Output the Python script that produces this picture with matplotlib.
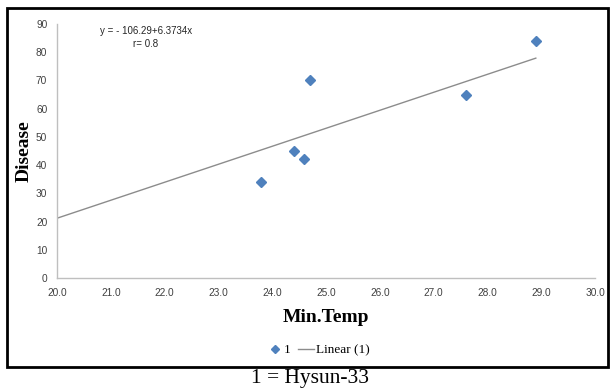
import numpy as np
import matplotlib
matplotlib.use("Agg")
import matplotlib.pyplot as plt
from matplotlib.patches import Rectangle

# Data
min_temp = [23.8, 24.4, 24.6, 24.7, 27.6, 28.9]
disease = [34, 45, 42, 70, 65, 84]
intercept = -106.29
slope = 6.3734
x_ticks = [20.0, 21.0, 22.0, 23.0, 24.0, 25.0, 26.0, 27.0, 28.0, 29.0, 30.0]
y_ticks = [0, 10, 20, 30, 40, 50, 60, 70, 80, 90]

fig = plt.figure(figsize=(6.11, 3.90), dpi=100)
ax = fig.add_axes([57/611, 1-278/390, (595-57)/611, (278-24)/390])

trend_x = np.array([x_ticks[0], max(min_temp)])
trend_y = intercept + slope * trend_x

ax.plot(min_temp, disease, linestyle='none', marker='D', markersize=5.2,
        color='#4F81BD', label='1', zorder=3)
ax.plot(trend_x, trend_y, color='#8C8C8C', linewidth=1.0, label='Linear (1)', zorder=2)

ax.set_xlim(20, 30)
ax.set_ylim(0, 90)
ax.set_xticks(x_ticks)
ax.set_xticklabels([f"{t:.1f}" for t in x_ticks])
ax.set_yticks(y_ticks)
ax.tick_params(length=0, labelsize=7.3, colors='#404040', pad=7)
for lab in ax.get_xticklabels() + ax.get_yticklabels():
    lab.set_family('Liberation Sans')
for s in ['top', 'right']:
    ax.spines[s].set_visible(False)
for s in ['left', 'bottom']:
    ax.spines[s].set_color('#BFBFBF')
    ax.spines[s].set_linewidth(1.0)

ax.set_xlabel('Min.Temp', family='Liberation Serif', fontweight='bold', fontsize=14, labelpad=8)
ax.set_ylabel('Disease', family='Liberation Serif', fontweight='bold', fontsize=14, labelpad=2)

fig.text(146/611, 1-31/390, 'y = - 106.29+6.3734x', family='Liberation Sans', fontsize=7,
         ha='center', va='center', color='#262626')
fig.text(146/611, 1-44/390, 'r= 0.8', family='Liberation Sans', fontsize=7,
         ha='center', va='center', color='#262626')

leg = fig.legend(loc='center', bbox_to_anchor=(318/611, 1-350/390), ncol=2, frameon=False,
                 prop={'family': 'Liberation Serif', 'size': 9.5}, handlelength=1.2,
                 handletextpad=0.1, columnspacing=0.6, markerscale=0.8)

fig.patches.append(Rectangle((7/611, 1-367/390), (608-7)/611, (367-8)/390,
                             transform=fig.transFigure, fill=False, edgecolor='black',
                             linewidth=2.0))

fig.text(310/611, 1-379/390, '1 = Hysun-33', family='Liberation Serif', fontsize=15.5,
         ha='center', va='center', color='black')

fig.savefig('out.png', dpi=100)
